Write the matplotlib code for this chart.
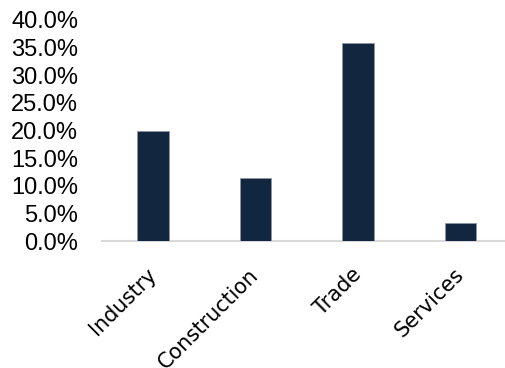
import matplotlib
matplotlib.use("Agg")
import matplotlib.pyplot as plt
from matplotlib.ticker import FuncFormatter, MultipleLocator
from matplotlib.font_manager import FontProperties
import matplotlib.transforms as mtransforms

categories = ["Industry", "Construction", "Trade", "Services"]
shares = [20.0, 11.4, 35.8, 3.3]

plt.rcParams["font.family"] = ["DejaVu Sans"]

fig = plt.figure(figsize=(5.06, 3.68), dpi=100)
ax = fig.add_axes([101.75 / 506, 1 - 241 / 368, 410 / 506, 221 / 368])

x = list(range(len(categories)))
ax.bar(x, shares, width=0.31, color="#12263f", edgecolor="#8d97a5", linewidth=0.6, zorder=3)

ax.set_xlim(-0.5, 3.5)
ax.set_ylim(0, 40)
ax.yaxis.set_major_locator(MultipleLocator(5))
ax.yaxis.set_major_formatter(FuncFormatter(lambda v, p: f"{v:.1f}%"))

for s in ["top", "right", "left"]:
    ax.spines[s].set_visible(False)
ax.spines["bottom"].set_color("#d9d9d9")
ax.spines["bottom"].set_linewidth(1.5)

ax.tick_params(axis="y", length=0, pad=17, colors="black")
ax.tick_params(axis="x", length=0, pad=17)
ax.set_xticks(x)
ax.set_xticklabels(categories, rotation=45, ha="right", rotation_mode="default",
                   fontproperties=FontProperties(family="DejaVu Sans", size=15))
offset = mtransforms.ScaledTranslation(7 / 100, 0, fig.dpi_scale_trans)
for lbl in ax.get_xticklabels():
    lbl.set_transform(lbl.get_transform() + offset)

fig.canvas.draw()
for lbl in ax.get_yticklabels():
    lbl.set_fontproperties(FontProperties(family="Liberation Sans", size=17))

fig.savefig("out.png", dpi=100)
